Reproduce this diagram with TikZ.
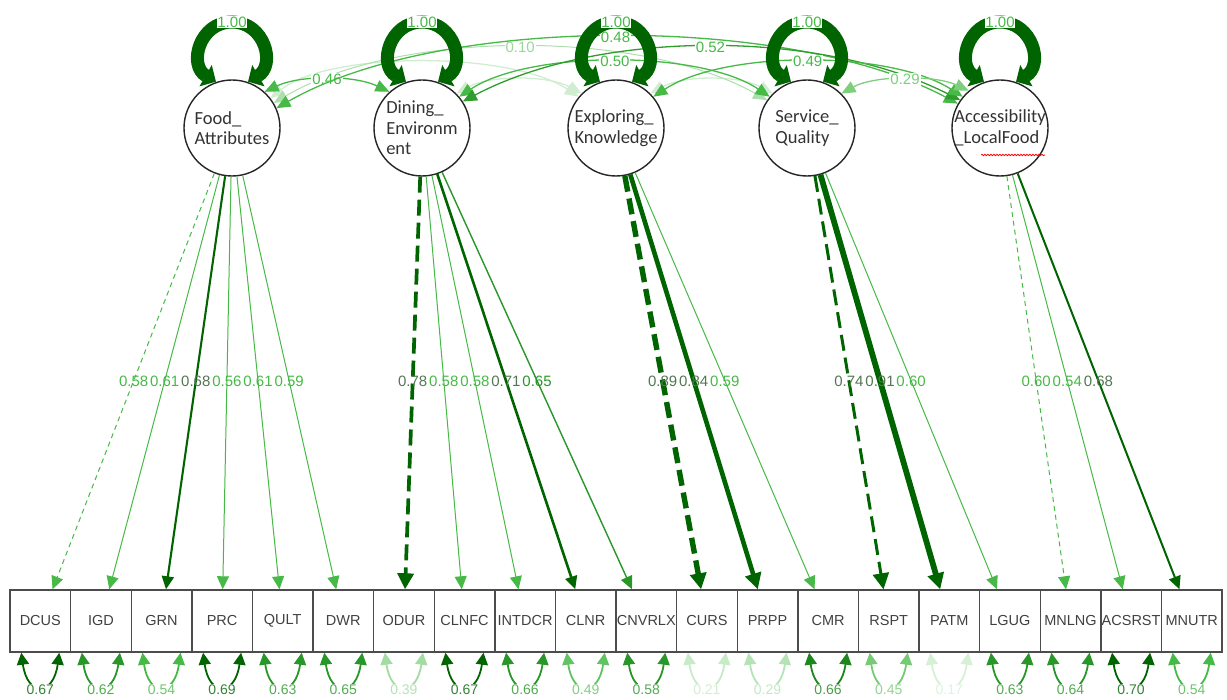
\documentclass[tikz,border=0pt]{standalone}
\usepackage{fontspec}
\setmainfont{Liberation Sans}
\newfontfamily\carl{Carlito}
\usetikzlibrary{arrows.meta,calc,decorations.pathmorphing}
\definecolor{dkg}{RGB}{0,100,0}
\definecolor{mg}{RGB}{40,150,40}
\definecolor{lg}{RGB}{70,185,70}
\colorlet{lgray}{dkg!35!gray}
\begin{document}
\begin{tikzpicture}[x=1pt,y=-1pt,
  box/.style={draw=black!70, line width=1.4pt, minimum width=60.6pt, minimum height=62pt, inner sep=0pt, font=\fontsize{14.5}{17}\selectfont, text=black!75},
  lat/.style={circle, draw=black!85, line width=1.4pt, fill=white, minimum size=96pt, inner sep=0pt},
  lattext/.style={align=left, inner sep=0pt, font=\carl\fontsize{18.5}{20.5}\selectfont, text=black!80},
  ld/.style={-{Triangle[length=13pt,width=12pt]}, line width=1pt},
  ldthick/.style={-{Triangle[length=16pt,width=16pt]}},
  dthin/.style={dash pattern=on 5pt off 4pt},
  dthick/.style={dash pattern=on 16pt off 7pt},
  ldlab/.style={inner sep=0pt, font=\fontsize{15}{15}\selectfont},
  vloop/.style={{Triangle[length=12pt,width=24pt]}-{Triangle[length=12pt,width=24pt]}, line width=13pt, draw=dkg},
  vlab/.style={fill=white, inner sep=0.5pt, font=\fontsize{15}{15}\selectfont, text=lg},
  cov/.style={{Triangle[length=14pt,width=12pt]}-{Triangle[length=14pt,width=12pt]}, line width=1.3pt},
  covlab/.style={fill=white, inner sep=1pt, font=\fontsize{15}{15}\selectfont},
  res/.style={{Triangle[length=12pt,width=12pt]}-{Triangle[length=12pt,width=12pt]}, line width=1.8pt},
  reslab/.style={fill=white, inner sep=0.5pt, font=\fontsize{14}{14}\selectfont},
]
\useasboundingbox (0,0) rectangle (1227,700);

% latent variables
\node[lat] (F) at (232,128) {};
\node[lat] (D) at (422,128) {};
\node[lat] (E) at (616,128) {};
\node[lat] (S) at (807,128) {};
\node[lat] (A) at (1000,128) {};
\node[lattext] (Ft) at (F) {Food\_\\Attributes};
\node[lattext] (Dt) at (D) {Dining\_\\Environm\\ent};
\node[lattext] (Et) at (E) {Exploring\_\\Knowledge};
\node[lattext] (St) at (S) {Service\_\\Quality};
\node[lattext] (At) at (A) {Accessibility\\\_LocalFood};
\draw[red, line width=0.8pt, decorate, decoration={snake, amplitude=0.7pt, segment length=3pt}]
  ($(A)+(-19,27)$) -- ($(A)+(45,27)$);

% observed variables
\foreach \n [count=\i from 0] in {DCUS,IGD,GRN,PRC,QULT,DWR,ODUR,CLNFC,INTDCR,CLNR,CNVRLX,CURS,PRPP,CMR,RSPT,PATM,LGUG,MNLNG,ACSRST,MNUTR}
  \node[box] (\n) at ({10+60.6*(\i+0.5)},621) {\n};

% covariances
\draw[cov, draw=lg!25!white] (F.38) .. controls (330,51) and (510,51) .. (E.140);
\draw[cov, draw=lg!25!white] (D.45) .. controls (490,75) and (548,75) .. (E.135);
\draw[cov, draw=lg!25!white] (E.45) .. controls (684,75) and (739,75) .. (S.135);
\draw[cov, draw=lg!45!white, line width=1pt] (F.31) .. controls (400,29) and (640,29) .. node[covlab, text=lg!55!white]{0.10} (S.145);
\draw[cov, draw=lg] (F.48) .. controls (300,75) and (354,75) .. node[covlab, text=lg]{0.46} (D.132);
\draw[cov, draw=lg] (F.24) .. controls (440,14) and (790,14) .. node[covlab, text=lg]{0.48} (A.150);
\draw[cov, draw=lg] (D.40) .. controls (530,50) and (700,50) .. node[covlab, text=lg]{0.50} (S.140);
\draw[cov, draw=mg!80!lg] (D.33) .. controls (600,29) and (820,29) .. node[covlab, text=lg]{0.52} (A.145);
\draw[cov, draw=lg] (E.40) .. controls (725,50) and (890,50) .. node[covlab, text=lg]{0.49} (A.140);
\draw[cov, draw=lg!70!white] (S.45) .. controls (875,75) and (935,75) .. node[covlab, text=lg!70!white]{0.29} (A.130);

% variances of latent variables
\foreach \X in {F,D,E,S,A}
  \draw[vloop] ($(\X)+(-16,-46.3)$) .. controls ($(\X)+(-44.4,-62.7)$) and ($(\X)+(-32.7,-106)$) .. ($(\X)+(0,-106)$)
     node[vlab]{1.00}
     .. controls ($(\X)+(32.7,-106)$) and ($(\X)+(44.4,-62.7)$) .. ($(\X)+(16,-46.3)$);

% loadings
\draw[ld, lg, dthin] (F) -- (DCUS);
\draw[ld, lg] (F) -- (IGD);
\draw[ld, dkg, line width=2.1pt] (F) -- (GRN);
\draw[ld, lg] (F) -- (PRC);
\draw[ld, lg] (F) -- (QULT);
\draw[ld, lg] (F) -- (DWR);
\draw[ld, ldthick, dkg, line width=3.7pt, dthick] (D) -- (ODUR);
\draw[ld, lg] (D) -- (CLNFC);
\draw[ld, lg] (D) -- (INTDCR);
\draw[ld, dkg, line width=2.6pt] (D) -- (CLNR);
\draw[ld, mg, line width=1.4pt] (D) -- (CNVRLX);
\draw[ld, ldthick, dkg, line width=5.4pt, dthick] (E) -- (CURS);
\draw[ld, ldthick, dkg, line width=4.6pt] (E) -- (PRPP);
\draw[ld, lg] (E) -- (CMR);
\draw[ld, ldthick, dkg, line width=3pt, dthick] (S) -- (RSPT);
\draw[ld, ldthick, dkg, line width=5.8pt] (S) -- (PATM);
\draw[ld, lg] (S) -- (LGUG);
\draw[ld, lg, dthin] (A) -- (MNLNG);
\draw[ld, lg] (A) -- (ACSRST);
\draw[ld, dkg, line width=2pt] (A) -- (MNUTR);

% loading labels
\foreach \f/\b/\v/\c in {F/DCUS/0.58/lg, F/IGD/0.61/lg, F/GRN/0.68/lgray, F/PRC/0.56/lg, F/QULT/0.61/lg, F/DWR/0.59/lg,
  D/ODUR/0.78/lgray, D/CLNFC/0.58/lg, D/INTDCR/0.58/lg, D/CLNR/0.71/lgray, D/CNVRLX/0.65/mg,
  E/CURS/0.89/lgray, E/PRPP/0.84/lgray, E/CMR/0.59/lg,
  S/RSPT/0.74/lgray, S/PATM/0.91/lgray, S/LGUG/0.60/lg,
  A/MNLNG/0.60/lg, A/ACSRST/0.54/lg, A/MNUTR/0.68/lgray}
  \node[ldlab, text=\c] at ($(\f)!0.513!(\b)$) {\v};

% residual variances
\foreach \n/\v/\c in {DCUS/0.67/dkg, IGD/0.62/mg, GRN/0.54/lg, PRC/0.69/dkg, QULT/0.63/mg, DWR/0.65/mg,
  ODUR/0.39/lg!50!white, CLNFC/0.67/dkg, INTDCR/0.66/mg, CLNR/0.49/lg!85!white, CNVRLX/0.58/mg,
  CURS/0.21/lg!30!white, PRPP/0.29/lg!40!white, CMR/0.66/mg!70!dkg, RSPT/0.45/lg!75!white,
  PATM/0.17/lg!22!white, LGUG/0.63/mg, MNLNG/0.64/mg, ACSRST/0.70/dkg, MNUTR/0.54/lg}
{
  \draw[res, draw=\c] ([xshift=-19pt]\n.south) .. controls +(6,44) and +(-6,44) .. ([xshift=19pt]\n.south);
  \node[reslab, text=\c!80!white] at ([yshift=-37pt]\n.south) {\v};
}
\end{tikzpicture}
\end{document}
